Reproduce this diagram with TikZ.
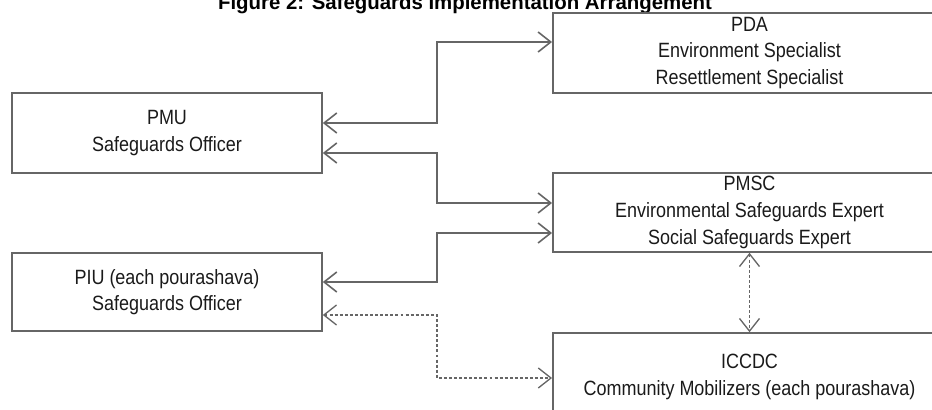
\documentclass[tikz,border=0pt]{standalone}
\usepackage{fontspec}
\setmainfont{Liberation Sans}
\newfontfamily\narrowfont[FakeStretch=0.87]{Liberation Sans}
\usepackage{tikz}
\usetikzlibrary{arrows.meta,calc}

\definecolor{linegray}{HTML}{666666}
\definecolor{textgray}{HTML}{1A1A1A}

\tikzset{
  box/.style={draw=linegray, line width=1.2pt, align=center, inner sep=0pt,
    text=textgray, font=\narrowfont\fontsize{15.5}{20}\selectfont},
  link/.style={draw=linegray, line width=1.2pt,
    {Straight Barb[length=9.5pt,width=15pt]}-{Straight Barb[length=9.5pt,width=15pt]}},
  dotlink/.style={link, line width=1pt, dash pattern=on 2.2pt off 1.6pt}
}

\begin{document}
\begin{tikzpicture}[x=0.75pt, y=-0.75pt]
  \useasboundingbox (0,0) rectangle (932,410);

  % Title (top is cut by the page edge)
  \node[anchor=base, font=\bfseries\fontsize{15.3}{18}\selectfont] (title) at (465,10)
    {Figure 2: Safeguards Implementation Arrangement};

  % Left column
  \node[box, minimum width=232.5pt, minimum height=60pt] (pmu) at (167,133)
    {PMU\\Safeguards Officer};
  \node[box, minimum width=232.5pt, minimum height=58.5pt] (piu) at (167,292)
    {PIU (each pourashava)\\Safeguards Officer};

  % Right column (runs past the right edge)
  \node[box, minimum width=295pt, minimum height=60pt] (pda) at (749.5,53)
    {PDA\\Environment Specialist\\Resettlement Specialist};
  \node[box, minimum width=295pt, minimum height=59.25pt] (pmsc) at (749.5,212.5)
    {PMSC\\Environmental Safeguards Expert\\Social Safeguards Expert};
  \node[box, minimum width=295pt, minimum height=66pt] (iccdc) at (749.5,377)
    {ICCDC\\Community Mobilizers (each pourashava)};

  % Links through the trunk at x=437
  \foreach \a/\ya/\b/\yb in {pmu/123/pda/42, pmu/153/pmsc/203, piu/282/pmsc/233} {
    \draw[link] (\a.east |- 0,\ya) -- (437,\ya) |- (\b.west |- 0,\yb);
  }
  \draw[dotlink] (piu.east |- 0,315) -- (437,315) |- (iccdc.west |- 0,378);
  \draw[dotlink] (pmsc.south) -- (iccdc.north);
\end{tikzpicture}
\end{document}
